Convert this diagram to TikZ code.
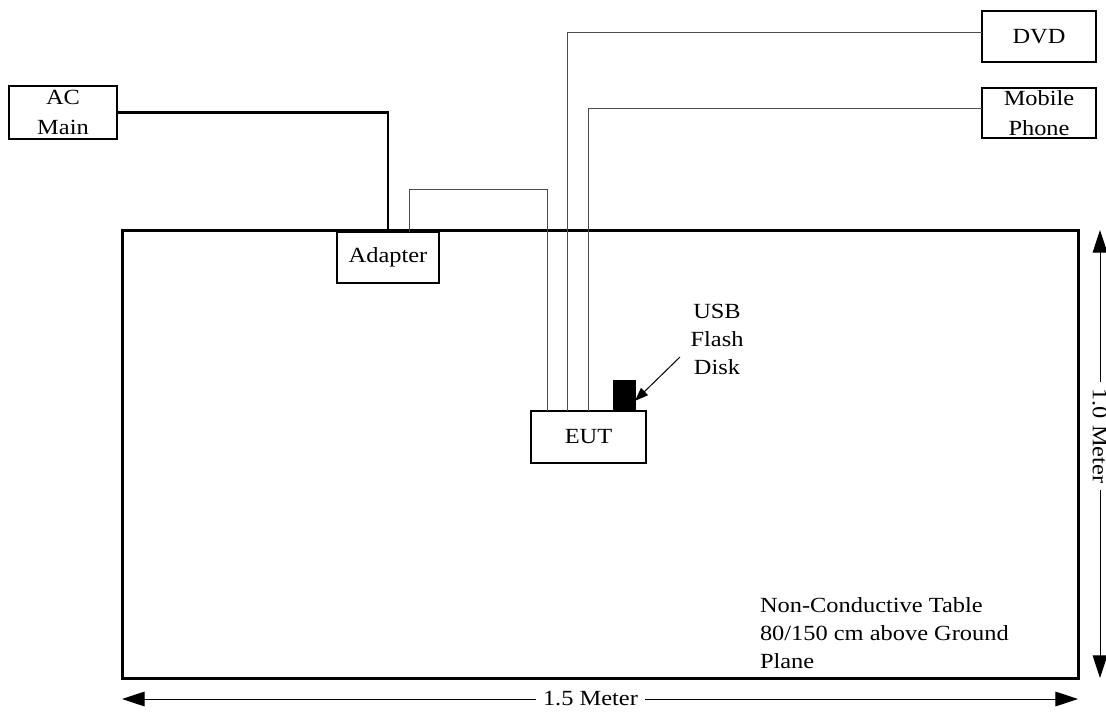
\documentclass[tikz,border=0pt]{standalone}
\usepackage{fontspec}
\setmainfont{Liberation Serif}[FakeStretch=1.13]
\usetikzlibrary{arrows.meta}
\begin{document}
\begin{tikzpicture}[x=0.75pt,y=-0.75pt,
  every node/.style={inner sep=0pt, outer sep=0pt},
  txt/.style={font=\fontsize{16.2pt}{21.2pt}\selectfont},
  devbox/.style={draw, line width=1pt, align=center, font=\fontsize{16.2pt}{22.5pt}\selectfont},
  wire/.style={line width=0.6pt, draw=black!70},
  power/.style={line width=2pt},
  tablebox/.style={draw, line width=2.25pt},
  dimline/.style={line width=0.75pt, {Triangle[length=17pt,width=11pt]}-{Triangle[length=17pt,width=11pt]}},
  pointer/.style={line width=0.75pt, -{Triangle[length=10pt,width=7.5pt]}},
  dimlabel/.style={txt, fill=white, inner xsep=5pt, inner ysep=1pt}
]
\useasboundingbox (0,0) rectangle (1106,711);

% table
\node[tablebox, minimum width=717pt, minimum height=336pt] (table) at (600,454) {};

% devices
\node[devbox, minimum width=81pt, minimum height=39.75pt] (ac) at (63,112.5) {AC\\Main};
\node[devbox, minimum width=76.5pt, minimum height=38.25pt] (adapter) at (388,257.5) {Adapter};
\node[devbox, minimum width=86.25pt, minimum height=39pt] (eut) at (588.5,437) {EUT};
\node[devbox, minimum width=85.5pt, minimum height=38.25pt] (dvd) at (1039,36.5) {DVD};
\node[devbox, minimum width=85.5pt, minimum height=37.5pt] (mobile) at (1039,113) {Mobile\\Phone};
\node[draw, fill=black, minimum width=16.5pt, minimum height=23.25pt] (usb) at (624,395.5) {};

% cables
\draw[power] (ac.east) -| (adapter.north);
\draw[wire] ([xshift=15.75pt]adapter.north) -- ++(0,-43) -| ([xshift=-31.1pt]eut.north);
\draw[wire] ([xshift=-16.1pt]eut.north) |- ([yshift=3.4pt]dvd.west);
\draw[wire] ([xshift=-0.4pt]eut.north) |- ([yshift=3.75pt]mobile.west);

% USB label
\node[txt, align=center] (usblabel) at (717,339.4) {USB\\Flash\\Disk};
\coordinate (usbtail) at (680,357);
\draw[pointer] (usbtail) -- ([yshift=-4pt]usb.east);

% table label
\node[txt, align=left, anchor=north west] (tablelabel) at (760,597.2) {Non-Conductive Table\\80/150 cm above Ground\\Plane};

% dimensions
\draw[dimline] ([yshift=-15.75pt]table.south west) -- ([yshift=-15.75pt]table.south east)
  node[dimlabel, pos=0.49] (lenlabel) {1.5 Meter};
\draw[dimline] ([xshift=16.5pt]table.north east) -- ([xshift=16.5pt]table.south east)
  node[dimlabel, pos=0.46, rotate=-90] (widlabel) {1.0 Meter};
\end{tikzpicture}
\end{document}
